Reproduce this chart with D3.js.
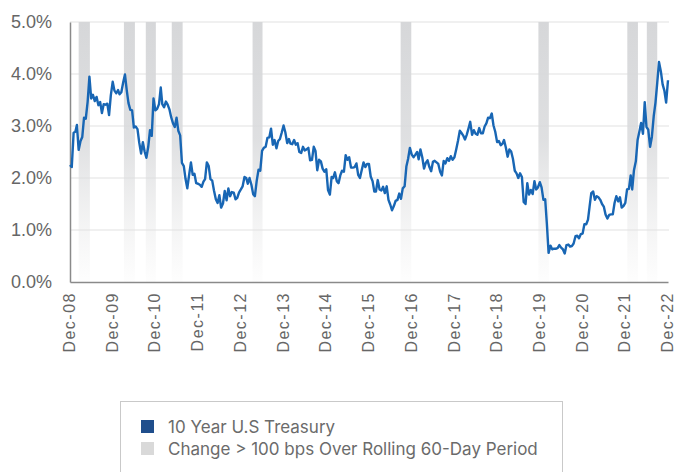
<!DOCTYPE html>
<html>
<head>
<meta charset="utf-8">
<script src="https://cdn.jsdelivr.net/npm/d3@7"></script>
<style>
  body { margin: 0; background: #fff; }
  svg { display: block; font-family: "Inter", "Liberation Sans", Arial, sans-serif; }
</style>
</head>
<body>
<div id="chart"></div>
<script>
// 10Y yield, read at mid-month (15th) and month end, Jan..Dec
const startValue = 2.25; // Dec 31 2008
const y2009 = [2.21, 2.87, 2.89, 3.02, 2.54, 2.71, 2.79, 3.16, 3.14, 3.47, 3.95, 3.53, 3.60, 3.48, 3.56, 3.40, 3.46, 3.25, 3.42, 3.41, 3.43, 3.21, 3.59, 3.85];
const y2010 = [3.68, 3.63, 3.69, 3.61, 3.65, 3.84, 3.99, 3.69, 3.44, 3.31, 3.30, 2.97, 2.99, 2.94, 2.68, 2.47, 2.69, 2.51, 2.39, 2.60, 2.92, 2.81, 3.53, 3.30];
const y2011 = [3.33, 3.42, 3.74, 3.42, 3.36, 3.47, 3.41, 3.32, 3.17, 3.05, 2.98, 3.16, 2.91, 2.82, 2.29, 2.23, 1.98, 1.80, 2.05, 2.30, 2.06, 2.08, 1.90, 1.89];
const y2012 = [1.87, 1.83, 1.93, 1.98, 2.30, 2.23, 1.98, 1.95, 1.76, 1.59, 1.52, 1.67, 1.43, 1.51, 1.75, 1.57, 1.80, 1.65, 1.73, 1.72, 1.59, 1.62, 1.72, 1.78];
const y2013 = [1.84, 2.02, 2.00, 1.89, 2.00, 1.87, 1.69, 1.65, 1.94, 2.16, 2.14, 2.52, 2.58, 2.60, 2.77, 2.78, 2.95, 2.64, 2.73, 2.57, 2.71, 2.75, 2.87, 3.01];
const y2014 = [2.88, 2.67, 2.75, 2.66, 2.65, 2.73, 2.64, 2.67, 2.50, 2.48, 2.60, 2.53, 2.55, 2.58, 2.34, 2.35, 2.60, 2.52, 2.15, 2.35, 2.32, 2.18, 2.12, 2.17];
const y2015 = [1.77, 1.68, 2.02, 2.00, 2.11, 1.94, 1.90, 2.05, 2.14, 2.12, 2.44, 2.35, 2.40, 2.20, 2.20, 2.21, 2.28, 2.06, 2.00, 2.16, 2.30, 2.21, 2.27, 2.27];
const y2016 = [2.03, 1.94, 1.74, 1.74, 1.96, 1.78, 1.76, 1.83, 1.71, 1.84, 1.58, 1.49, 1.38, 1.46, 1.56, 1.58, 1.70, 1.60, 1.80, 1.84, 2.22, 2.37, 2.58, 2.45];
const y2017 = [2.40, 2.45, 2.50, 2.36, 2.55, 2.40, 2.18, 2.29, 2.34, 2.21, 2.13, 2.31, 2.33, 2.30, 2.27, 2.12, 2.05, 2.33, 2.28, 2.38, 2.33, 2.42, 2.35, 2.40];
const y2018 = [2.55, 2.72, 2.91, 2.87, 2.82, 2.74, 2.83, 2.95, 3.08, 2.83, 2.92, 2.85, 2.83, 2.96, 2.86, 2.86, 2.99, 3.05, 3.16, 3.15, 3.24, 3.01, 2.89, 2.69];
const y2019 = [2.71, 2.63, 2.66, 2.73, 2.59, 2.41, 2.55, 2.51, 2.37, 2.14, 2.09, 2.00, 2.09, 2.02, 1.54, 1.50, 1.90, 1.68, 1.77, 1.69, 1.94, 1.78, 1.82, 1.92];
const y2020 = [1.82, 1.58, 1.59, 1.13, 0.56, 0.70, 0.63, 0.64, 0.64, 0.65, 0.71, 0.66, 0.63, 0.55, 0.71, 0.72, 0.68, 0.69, 0.74, 0.88, 0.89, 0.84, 0.92, 0.93];
const y2021 = [1.11, 1.11, 1.20, 1.44, 1.71, 1.74, 1.58, 1.65, 1.63, 1.58, 1.50, 1.45, 1.30, 1.22, 1.29, 1.30, 1.30, 1.52, 1.65, 1.55, 1.63, 1.43, 1.46, 1.52];
const y2022 = [1.78, 1.79, 2.05, 1.78, 2.15, 2.32, 2.73, 2.89, 3.06, 2.85, 3.46, 2.98, 2.93, 2.60, 2.79, 3.19, 3.45, 3.83, 4.23, 4.05, 3.80, 3.68, 3.45, 3.88];

const yearValues = [y2009, y2010, y2011, y2012, y2013, y2014, y2015, y2016, y2017, y2018, y2019, y2020, y2021, y2022];
const firstYear = 2009;

// periods with a > 100 bps move over a rolling 60-day window
const shadeStarts = ['2009-03-15', '2010-04-06', '2010-10-10', '2011-05-20', '2013-04-10', '2016-09-27', '2019-12-19', '2022-01-17', '2022-07-03'];
const shadeEnds   = ['2009-06-19', '2010-07-09', '2011-01-04', '2011-08-21', '2013-07-04', '2016-12-27', '2020-03-17', '2022-04-18', '2022-09-30'];

const tickYears = [2008, 2009, 2010, 2011, 2012, 2013, 2014, 2015, 2016, 2017, 2018, 2019, 2020, 2021, 2022];
const tickLabels = ['Dec-08', 'Dec-09', 'Dec-10', 'Dec-11', 'Dec-12', 'Dec-13', 'Dec-14', 'Dec-15', 'Dec-16', 'Dec-17', 'Dec-18', 'Dec-19', 'Dec-20', 'Dec-21', 'Dec-22'];
const yTicks = [0, 1, 2, 3, 4, 5];

const legendLabels = ['10 Year U.S Treasury', 'Change > 100 bps Over Rolling 60-Day Period'];
const legendColors = ['#1f4e8c', '#d9d9d9'];

const width = 675, height = 472;
const margin = {left: 70, right: 7, top: 22, bottom: 190};

const parse = d3.timeParse('%Y-%m-%d');

const data = [{date: new Date(2008, 11, 31), value: startValue}];
yearValues.forEach((vals, i) => {
  const yr = firstYear + i;
  vals.forEach((v, j) => {
    const m = Math.floor(j / 2);
    const date = j % 2 === 0 ? new Date(yr, m, 15) : new Date(yr, m + 1, 0);
    data.push({date, value: v});
  });
});

const svg = d3.select('#chart')
  .append('svg')
  .attr('width', width)
  .attr('height', height);

const x = d3.scaleTime()
  .domain([new Date(2008, 11, 31), new Date(2022, 11, 31)])
  .range([margin.left, width - margin.right]);

const y = d3.scaleLinear()
  .domain([0, 5])
  .range([height - margin.bottom, margin.top]);

const defs = svg.append('defs');
const grad = defs.append('linearGradient')
  .attr('id', 'shadeGrad')
  .attr('x1', 0).attr('y1', 0).attr('x2', 0).attr('y2', 1);
grad.append('stop').attr('offset', '0%').attr('stop-color', '#d6d7d9').attr('stop-opacity', 1);
grad.append('stop').attr('offset', '45%').attr('stop-color', '#d9dadc').attr('stop-opacity', 0.85);
grad.append('stop').attr('offset', '100%').attr('stop-color', '#e6e6e6').attr('stop-opacity', 0.06);

// grid
svg.append('g')
  .selectAll('line')
  .data(yTicks.slice(1))
  .enter()
  .append('line')
  .attr('x1', margin.left)
  .attr('x2', width - margin.right + 1)
  .attr('y1', d => y(d))
  .attr('y2', d => y(d))
  .attr('stroke', '#e2e2e2')
  .attr('stroke-width', 1.2);

// shaded periods
svg.append('g')
  .selectAll('rect')
  .data(shadeStarts.map((s, i) => ({s: parse(s), e: parse(shadeEnds[i])})))
  .enter()
  .append('rect')
  .attr('x', d => x(d.s))
  .attr('width', d => x(d.e) - x(d.s))
  .attr('y', y(5))
  .attr('height', y(0) - y(5))
  .attr('fill', 'url(#shadeGrad)');

// y axis labels
const yAxis = svg.append('g')
  .attr('transform', `translate(${margin.left},0)`)
  .call(d3.axisLeft(y).tickValues(yTicks).tickSize(0).tickPadding(18).tickFormat(d => d.toFixed(1) + '%'));
yAxis.select('.domain').attr('stroke', '#8a8a8a').attr('stroke-width', 1.5);
yAxis.selectAll('text')
  .attr('fill', '#666')
  .style('font-family', '"Liberation Sans", Arial, sans-serif')
  .style('font-size', '18px');

// x axis
const xAxis = svg.append('g')
  .attr('transform', `translate(0,${y(0)})`)
  .call(d3.axisBottom(x)
    .tickValues(tickYears.map(yr => new Date(yr, 11, 31)))
    .tickSize(0)
    .tickFormat((d, i) => tickLabels[i]));
xAxis.select('.domain').attr('stroke', '#8a8a8a').attr('stroke-width', 1.5);
xAxis.selectAll('text')
  .attr('fill', '#666')
  .style('font-family', '"Liberation Sans", Arial, sans-serif')
  .style('font-size', '16px')
  .style('letter-spacing', '1.5px')
  .attr('text-anchor', 'end')
  .attr('transform', 'rotate(-90)')
  .attr('x', -10)
  .attr('y', -1)
  .attr('dy', '0.35em');

// line
const line = d3.line()
  .x(d => x(d.date))
  .y(d => y(d.value));

svg.append('path')
  .datum(data)
  .attr('fill', 'none')
  .attr('stroke', '#1866b4')
  .attr('stroke-width', 2.4)
  .attr('stroke-linejoin', 'round')
  .attr('d', line);

// legend
const legend = svg.append('g');
legend.append('rect')
  .attr('x', 120.5)
  .attr('y', 401.5)
  .attr('width', 442)
  .attr('height', 90)
  .attr('fill', 'none')
  .attr('stroke', '#c9c9c9');

const items = legend.selectAll('g.item')
  .data(legendLabels)
  .enter()
  .append('g')
  .attr('class', 'item')
  .attr('transform', (d, i) => `translate(141, ${420 + i * 22})`);

items.append('rect')
  .attr('width', 13)
  .attr('height', 13)
  .attr('fill', (d, i) => legendColors[i]);

items.append('text')
  .attr('x', 27)
  .attr('y', 7)
  .attr('dy', '0.35em')
  .attr('fill', '#6b6b6b')
  .style('font-size', '17px')
  .text(d => d);
</script>
</body>
</html>
